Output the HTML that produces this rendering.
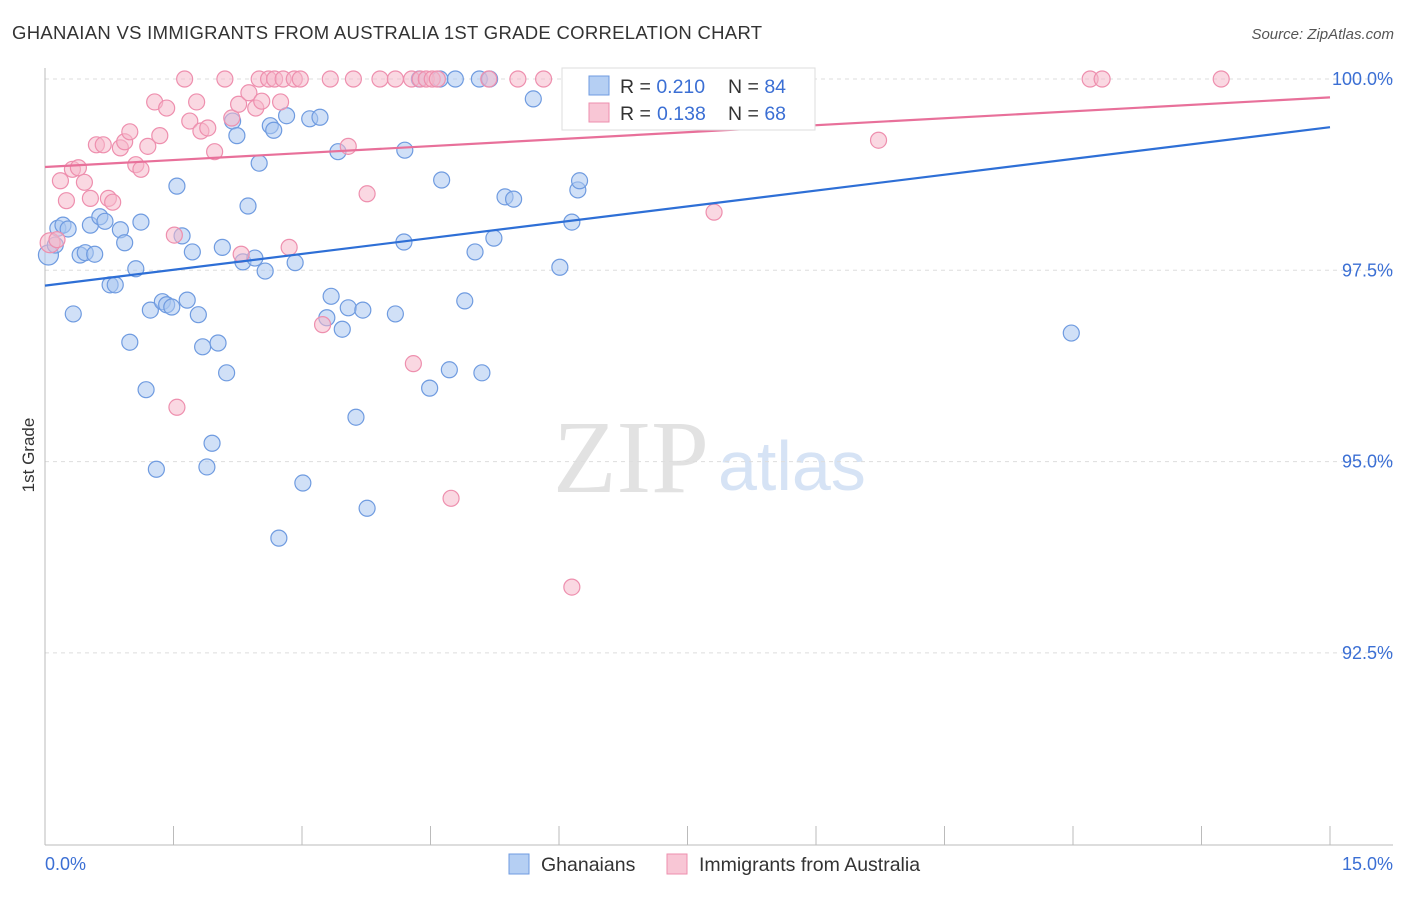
<!DOCTYPE html>
<html><head><meta charset="utf-8"><style>
body{margin:0;background:#fff;font-family:"Liberation Sans",sans-serif}
</style></head><body>
<svg id="chart" width="1406" height="892" viewBox="0 0 1406 892" font-family="Liberation Sans, sans-serif">
<text x="12" y="39" font-size="18.5" letter-spacing="0.3" fill="#333">GHANAIAN VS IMMIGRANTS FROM AUSTRALIA 1ST GRADE CORRELATION CHART</text>
<text x="1394" y="39" font-size="15" fill="#555" text-anchor="end" font-style="italic">Source: ZipAtlas.com</text>
<text x="34" y="455" font-size="17" fill="#333" text-anchor="middle" transform="rotate(-90 34 455)">1st Grade</text>
<g>
<text x="553" y="492" font-size="104" style="font-family:'Liberation Serif',serif" fill="#e2e2e2">ZIP</text>
<text x="718" y="490" font-size="70" fill="#d6e3f5">atlas</text>
</g>
<g id="grid"></g><g id="axes"></g><g id="pts"></g><g id="trends"></g>
<g>
<rect x="562" y="68" width="253" height="62" fill="#fff" stroke="#ddd"/>
<rect x="589" y="76" width="20" height="19" fill="#b5cff3" stroke="#6f9be0"/>
<text x="620" y="93" font-size="19.5" fill="#333">R = <tspan fill="#3b6fd4">0.210</tspan></text>
<text x="728" y="93" font-size="19.5" fill="#333">N = <tspan fill="#3b6fd4">84</tspan></text>
<rect x="589" y="103" width="20" height="19" fill="#f8c6d5" stroke="#ee8fae"/>
<text x="620" y="120" font-size="19.5" fill="#333">R = <tspan x="657" fill="#3b6fd4">0.138</tspan></text>
<text x="728" y="120" font-size="19.5" fill="#333">N = <tspan fill="#3b6fd4">68</tspan></text>
</g>
<g>
<rect x="509" y="854" width="20" height="20" fill="#b5cff3" stroke="#6f9be0"/>
<text x="541" y="871" font-size="19.5" fill="#333">Ghanaians</text>
<rect x="667" y="854" width="20" height="20" fill="#f8c6d5" stroke="#ee8fae"/>
<text x="699" y="871" font-size="19.5" fill="#333">Immigrants from Australia</text>
</g>
</svg>
<script>
const blueX=[.04,.12,.15,.21,.27,.33,.41,.47,.53,.58,.64,.70,.76,.82,.88,.93,.99,1.06,1.12,1.18,1.23,1.30,1.37,1.42,1.48,1.54,1.60,1.66,1.72,1.79,1.84,1.89,1.95,2.02,2.07,2.12,2.19,2.24,2.31,2.37,2.45,2.50,2.57,2.63,2.67,2.73,2.82,2.92,3.01,3.09,3.21,3.29,3.34,3.42,3.47,3.54,3.63,3.71,3.76,4.09,4.19,4.20,4.37,4.49,4.61,4.63,4.72,4.79,4.90,5.02,5.07,5.10,5.19,5.24,5.37,5.47,5.70,6.01,6.15,6.22,6.24,6.91,11.98];
const blueY=[97.70,97.83,98.05,98.09,98.04,96.93,97.70,97.73,98.09,97.71,98.20,98.14,97.31,97.31,98.03,97.86,96.56,97.52,98.13,95.94,96.98,94.90,97.09,97.05,97.02,98.60,97.95,97.11,97.74,96.92,96.50,94.93,95.24,96.55,97.80,96.16,99.45,99.26,97.61,98.34,97.66,98.90,97.49,99.39,99.33,94.00,99.52,97.60,94.72,99.48,99.50,96.88,97.16,99.05,96.73,97.01,95.58,96.98,94.39,96.93,97.87,99.07,100,95.96,100,98.68,96.20,100,97.10,97.74,100,96.16,100,97.92,98.46,98.43,99.74,97.54,98.13,98.55,98.67,100,96.68];
const pinkX=[.06,.14,.18,.25,.32,.39,.46,.53,.60,.68,.74,.79,.88,.93,.99,1.06,1.12,1.20,1.28,1.34,1.42,1.51,1.54,1.63,1.69,1.77,1.82,1.90,1.98,2.10,2.18,2.26,2.29,2.38,2.46,2.50,2.53,2.61,2.68,2.75,2.78,2.85,2.91,2.98,3.24,3.33,3.54,3.60,3.76,3.91,4.09,4.30,4.28,4.38,4.45,4.52,4.58,4.74,5.18,5.52,5.82,6.15,6.24,6.88,7.81,9.73,12.20,12.34,13.73];
const pinkY=[97.86,97.90,98.67,98.41,98.82,98.84,98.65,98.44,99.14,99.14,98.44,98.39,99.10,99.18,99.31,98.88,98.82,99.12,99.70,99.26,99.62,97.96,95.71,100,99.45,99.70,99.32,99.36,99.05,100,99.49,99.67,97.71,99.82,99.62,100,99.71,100,100,99.70,100,97.80,100,100,96.79,100,99.12,100,98.50,100,100,96.28,100,100,100,100,100,94.52,100,100,100,93.36,100,99.46,98.26,99.20,100,100,100];
const blueTrend=[97.30,99.37];
const pinkTrend=[98.85,99.76];
const yTicks=[100,97.5,95,92.5];
const yTickLabels=["100.0%","97.5%","95.0%","92.5%"];
const xTicks=[0,1.5,3,4.5,6,7.5,9,10.5,12,13.5,15];
const NS="http://www.w3.org/2000/svg";
const sx=v=>45+v*85.667, sy=v=>79+(100-v)*76.52;
function mk(t,a,p){const e=document.createElementNS(NS,t);for(const k in a)e.setAttribute(k,a[k]);p.appendChild(e);return e;}
const grid=document.getElementById('grid'),axes=document.getElementById('axes'),pts=document.getElementById('pts'),tr=document.getElementById('trends');
yTicks.forEach((v,i)=>{
 const l=mk('line',{x1:45,x2:1393,y1:sy(v),y2:sy(v),stroke:'#ddd','stroke-dasharray':'4,4'},grid);
 
 
 const t=mk('text',{x:1393,y:sy(v)+6,'font-size':18,fill:'#3b6fd4','text-anchor':'end'},grid);
 t.textContent=yTickLabels[i];
 
 
});
const ya=mk('line',{x1:45,x2:45,y1:68,y2:845,stroke:'#bbb'},axes);


const xa=mk('line',{x1:45,x2:1393,y1:845,y2:845,stroke:'#bbb'},axes);


xTicks.forEach(v=>{
 const l=mk('line',{x1:sx(v),x2:sx(v),y1:826,y2:845,stroke:'#bbb'},axes);
 
 
});
const xl0=mk('text',{x:45,y:870,'font-size':18,fill:'#3b6fd4'},axes);xl0.textContent="0.0%";


const xl1=mk('text',{x:1393,y:870,'font-size':18,fill:'#3b6fd4','text-anchor':'end'},axes);xl1.textContent="15.0%";


function dots(X,Y,fill,stroke,name){X.forEach((x,i)=>{
 const c=mk('circle',{cx:sx(x),cy:sy(Y[i]),r:i===0?10:8,fill:fill,'fill-opacity':0.55,stroke:stroke,'stroke-width':1.2},pts);
 
 
});}
dots(blueX,blueY,'#a9c6f0','#6f9be0','ghanaian-point');
dots(pinkX,pinkY,'#f5b8cb','#ee8fae','australia-point');
const bt=mk('line',{x1:sx(0),y1:sy(blueTrend[0]),x2:sx(15),y2:sy(blueTrend[1]),stroke:'#2e6fd6','stroke-width':2.2},tr);


const pt=mk('line',{x1:sx(0),y1:sy(pinkTrend[0]),x2:sx(15),y2:sy(pinkTrend[1]),stroke:'#e8709a','stroke-width':2.2},tr);


</script>
</body></html>
